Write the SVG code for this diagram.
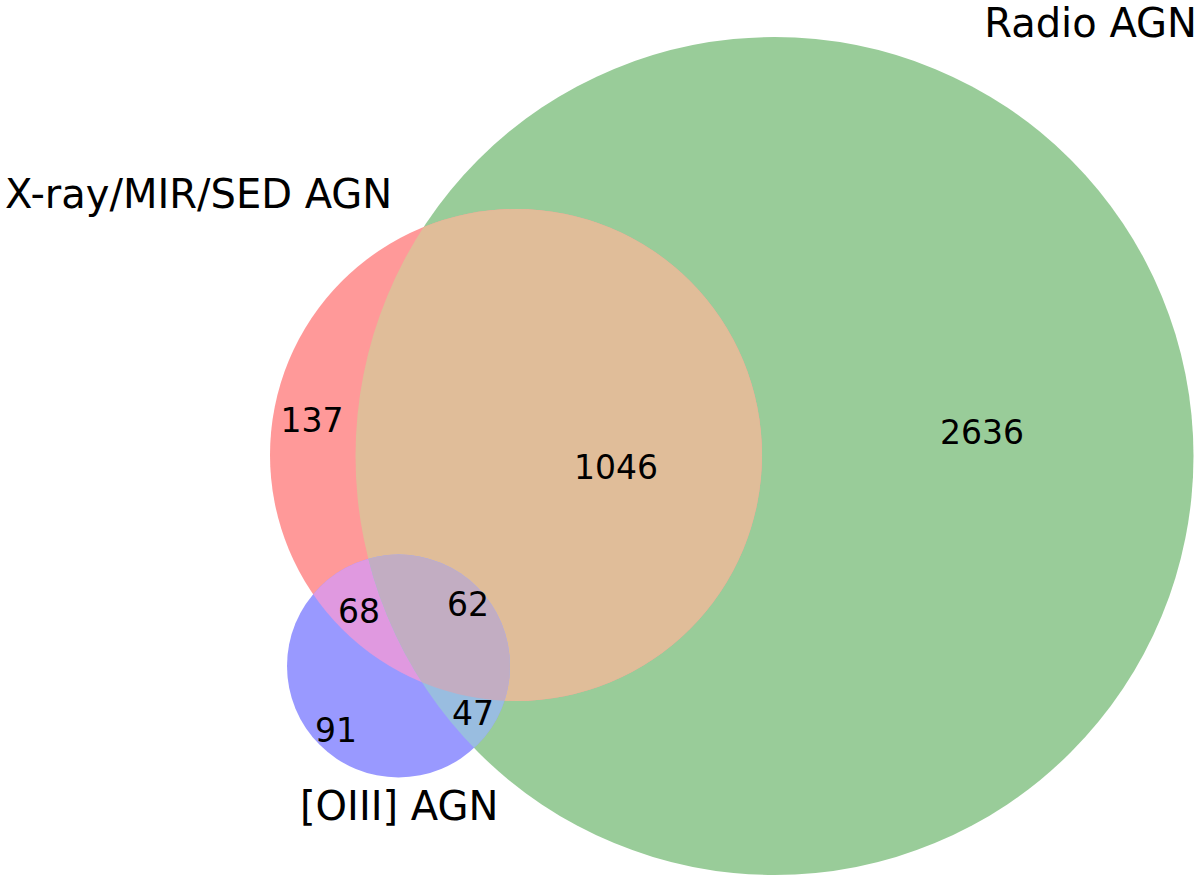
<svg xmlns="http://www.w3.org/2000/svg" width="1200" height="885" viewBox="0 0 1200 885">
<style>
.lbl{font-family:"DejaVu Sans",sans-serif;font-size:40px;fill:#000}
.num{font-family:"DejaVu Sans",sans-serif;font-size:33px;fill:#000;text-anchor:middle}
</style>
<defs>
<clipPath id="cG"><circle cx="774.5" cy="456" r="419"/></clipPath>
<clipPath id="cR"><circle cx="516" cy="455" r="246"/></clipPath>
</defs>
<rect width="1200" height="885" fill="#fff"/>
<g id="radio"><circle cx="774.5" cy="456" r="419" fill="#99CC99"/></g>
<g id="xray"><circle cx="516" cy="455" r="246" fill="#FF9999"/></g>
<g id="oiii"><circle cx="398.5" cy="666" r="111.5" fill="#9999FF"/></g>
<g id="xray-radio"><circle cx="516" cy="455" r="246" fill="#E0BD99" clip-path="url(#cG)"/></g>
<g id="xray-oiii"><circle cx="398.5" cy="666" r="111.5" fill="#E099E0" clip-path="url(#cR)"/></g>
<g id="oiii-radio"><circle cx="398.5" cy="666" r="111.5" fill="#99BDE0" clip-path="url(#cG)"/></g>
<g id="all" clip-path="url(#cR)"><circle cx="398.5" cy="666" r="111.5" fill="#C2ADC2" clip-path="url(#cG)"/></g>
<g id="labels">
<text class="lbl" x="1197" y="37" text-anchor="end">Radio AGN</text>
<text class="lbl" x="5" y="208">X-ray/MIR/SED AGN</text>
<text class="lbl" x="300" y="820">[OIII] AGN</text>
<text class="num" x="312" y="432">137</text>
<text class="num" x="616" y="479">1046</text>
<text class="num" x="982" y="444">2636</text>
<text class="num" x="359" y="623">68</text>
<text class="num" x="468" y="616">62</text>
<text class="num" x="336" y="742">91</text>
<text class="num" x="473" y="725">47</text>
</g>
</svg>
